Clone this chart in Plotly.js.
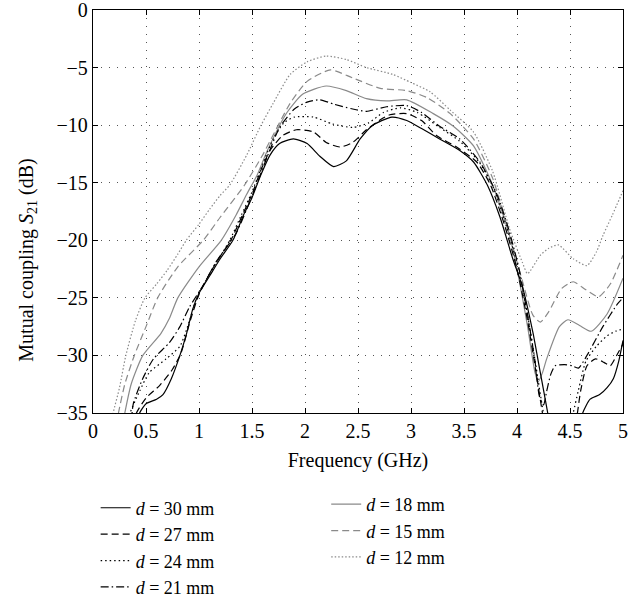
<!DOCTYPE html>
<html>
<head>
<meta charset="utf-8">
<script src="https://cdn.plot.ly/plotly-3.0.1.min.js"></script>
<style>body{margin:0;padding:0;background:#fff;} #chart{width:644px;height:615px;}</style>
</head>
<body>
<div id="chart"></div>
<script>
// Frequency (GHz) and S21 (dB) per spacing d; null breaks where a curve leaves the plot
const f30 = [0.42,0.44,0.5,0.6,0.66,0.74,0.82,0.88,0.94,1.0,1.1,1.2,1.32,1.42,1.5,1.58,1.67,1.76,1.89,2.02,2.14,2.27,2.39,2.52,2.64,2.82,2.96,3.1,3.27,3.46,3.59,3.72,3.84,3.96,4.05,4.15,4.22,4.29,4.31,null,4.6,4.62,4.69,4.78,4.85,4.91,4.96,5.0];
const s30 = [-36,-35,-34.2,-33.8,-33.4,-32,-30,-28.2,-26,-24.6,-23.1,-21.6,-20,-17.8,-16.3,-14.4,-12.6,-11.6,-11.2,-11.6,-12.7,-13.6,-13.1,-11.2,-10.0,-9.3,-9.6,-10.3,-11.2,-12.2,-13.2,-15.2,-18,-21.6,-24,-28,-31.5,-35,-36,null,-36,-35,-33.8,-33.4,-32.8,-32,-30.5,-28.7];

const f27 = [0.39,0.41,0.5,0.63,0.75,0.83,0.92,1.0,1.1,1.2,1.3,1.42,1.5,1.58,1.67,1.79,1.92,2.08,2.2,2.33,2.45,2.58,2.7,2.8,2.96,3.1,3.24,3.43,3.62,3.75,3.88,4.0,4.1,4.18,4.24,4.26,null,4.55,4.57,4.6,4.66,4.74,4.82,4.88,4.94,5.0];
const s27 = [-36,-35,-33.7,-32.6,-31.2,-29.8,-26.9,-24.7,-22.9,-21.4,-20,-17.6,-16.0,-14.0,-12.2,-10.9,-10.4,-10.6,-11.5,-11.9,-11.5,-10.4,-9.6,-9.1,-9.0,-9.6,-10.9,-11.9,-13.2,-15.2,-18.6,-22.5,-27,-31.5,-35,-36,null,-36,-35,-33.1,-30.9,-30.3,-30.6,-30.9,-30.0,-29.0];

const f24 = [0.33,0.35,0.44,0.53,0.69,0.82,0.91,0.97,1.1,1.2,1.29,1.4,1.5,1.6,1.7,1.8,1.9,2.08,2.26,2.45,2.6,2.74,2.9,3.06,3.27,3.46,3.65,3.78,3.9,4.0,4.1,4.18,4.24,4.27,null,4.5,4.53,4.58,4.65,4.75,4.85,4.93,5.0];
const s24 = [-36,-35,-33.1,-31.5,-30.3,-29.2,-27,-25.2,-22.9,-21.4,-20,-17.8,-15.8,-13.4,-11.2,-9.8,-9.3,-9.3,-9.9,-10.2,-9.8,-8.9,-8.5,-8.9,-10.2,-11.4,-13.3,-15.5,-18.8,-22,-26.5,-31,-34.5,-36,null,-36,-35,-33,-30.5,-29.2,-28.3,-27.9,-27.7];

const f21 = [0.36,0.38,0.47,0.57,0.72,0.82,0.91,1.04,1.16,1.35,1.45,1.55,1.65,1.76,1.9,2.02,2.14,2.28,2.45,2.58,2.77,2.96,3.1,3.27,3.46,3.65,3.81,3.92,4.02,4.1,4.17,4.21,4.25,4.28,4.32,4.36,4.45,4.52,4.58,4.66,4.81,4.95,5.0];
const s21 = [-36,-34.2,-32,-30.3,-28.9,-27.5,-25.8,-23.9,-21.9,-19.4,-17.3,-15,-12.6,-10.2,-8.6,-8.0,-7.8,-8.2,-8.6,-8.8,-8.4,-8.3,-8.9,-10.1,-11.2,-13.2,-16,-19,-22.5,-26.5,-30.5,-33.5,-34.3,-33.1,-31.6,-30.9,-30.8,-30.9,-31.1,-30,-27.5,-25.5,-25.0];

const f18 = [0.28,0.3,0.36,0.47,0.64,0.72,0.8,1.0,1.21,1.35,1.45,1.55,1.64,1.83,1.98,2.2,2.39,2.58,2.77,2.96,3.21,3.4,3.59,3.77,3.93,4.0,4.1,4.17,4.2,4.24,4.28,4.4,4.48,4.59,4.7,4.85,5.0];
const s18 = [-36,-35,-32.5,-30,-28.1,-26.8,-25,-22.3,-20,-17.8,-16.0,-14.3,-12.3,-8.9,-7.3,-6.6,-7.0,-7.7,-7.9,-7.8,-9.0,-10.1,-11.8,-15.2,-19.6,-22.5,-27.5,-31.5,-32.3,-31.5,-30.3,-27.5,-26.9,-27.4,-27.9,-26.4,-23.3];

const f15 = [0.22,0.24,0.3,0.39,0.5,0.61,0.8,1.04,1.2,1.43,1.6,1.86,2.02,2.24,2.45,2.71,2.96,3.15,3.37,3.59,3.77,3.93,4.05,4.15,4.22,4.3,4.42,4.53,4.65,4.77,4.88,5.0];
const s15 = [-36,-35,-32.5,-30,-27.5,-25,-22.3,-20,-18,-15.2,-12.6,-8.1,-6.2,-5.2,-5.9,-6.8,-7.0,-7.6,-9.0,-11.2,-14.6,-19.6,-23.5,-26.5,-27.1,-26.2,-24.2,-23.6,-24.3,-24.9,-23.8,-21.3];

const f12 = [0.17,0.19,0.25,0.31,0.4,0.49,0.6,0.7,0.8,0.88,1.0,1.1,1.2,1.29,1.45,1.58,1.7,1.86,2.02,2.2,2.39,2.58,2.83,3.0,3.18,3.37,3.59,3.77,3.93,4.05,4.1,4.22,4.3,4.39,4.53,4.66,4.75,4.81,4.9,5.0];
const s12 = [-36,-35,-32.8,-30,-27,-25,-23.8,-22.6,-21.2,-20,-18.6,-17.3,-16.1,-15.2,-12.6,-10.1,-8.1,-5.6,-4.5,-4.0,-4.3,-5.0,-5.6,-6.3,-7.1,-8.7,-10.6,-14,-19,-21.9,-22.9,-21.3,-20.7,-20.4,-21.6,-22.2,-21.0,-19.6,-17.8,-15.7];

const names = ['<i>d</i> = 30 mm','<i>d</i> = 27 mm','<i>d</i> = 24 mm','<i>d</i> = 21 mm','<i>d</i> = 18 mm','<i>d</i> = 15 mm','<i>d</i> = 12 mm'];
const xTicks = [0,0.5,1,1.5,2,2.5,3,3.5,4,4.5,5];
const xTickText = ['0','0.5','1','1.5','2','2.5','3','3.5','4','4.5','5'];
const yTicks = [-35,-30,-25,-20,-15,-10,-5,0];

const GRAY = '#8a8a8a';
const FONT = 'Liberation Serif, Times New Roman, serif';

function tr(x, y, name, color, dash, legend) {
  return {x: x, y: y, name: name, type: 'scatter', mode: 'lines', connectgaps: false,
          line: {color: color, width: 1.2, dash: dash, shape: 'spline', smoothing: 0.6},
          legend: legend, hoverinfo: 'skip'};
}

const data = [
  tr(f12, s12, names[6], GRAY, '1.5px,2px', 'legend2'),
  tr(f15, s15, names[5], GRAY, '7px,4px', 'legend2'),
  tr(f18, s18, names[4], GRAY, 'solid', 'legend2'),
  tr(f21, s21, names[3], '#000', '8px,3px,1.5px,3px', 'legend'),
  tr(f24, s24, names[2], '#000', '1.5px,3px', 'legend'),
  tr(f27, s27, names[1], '#000', '7px,4px', 'legend'),
  tr(f30, s30, names[0], '#000', 'solid', 'legend')
];

const axisCommon = {
  showline: true, linecolor: '#000', linewidth: 1.2, mirror: 'ticks',
  ticks: 'inside', ticklen: 5, tickwidth: 1, tickcolor: '#000',
  showgrid: true, gridcolor: '#555', gridwidth: 1, griddash: '1px,7px',
  zeroline: false, tickfont: {family: FONT, size: 20, color: '#000'},
  ticklabeloverflow: 'allow'
};

const layout = {
  width: 644, height: 615,
  margin: {l: 93, r: 21, t: 10, b: 191},
  paper_bgcolor: '#fff', plot_bgcolor: '#fff',
  font: {family: FONT, color: '#000'},
  xaxis: Object.assign({}, axisCommon, {
    range: [0, 5], tickmode: 'array', tickvals: xTicks, ticktext: xTickText,
    title: {text: 'Frequency (GHz)', font: {family: FONT, size: 20}, standoff: 11}
  }),
  yaxis: Object.assign({}, axisCommon, {
    range: [-35, 0], tickmode: 'array', tickvals: yTicks
  }),
  annotations: [{
    text: 'Mutual coupling <i>S</i><sub>21</sub> (dB)', textangle: -90,
    xref: 'paper', yref: 'paper', x: -0.123, y: 0.38, xanchor: 'center', yanchor: 'middle',
    showarrow: false, font: {family: FONT, size: 20, color: '#000'}
  }],
  legend: {
    x: 0.005, y: -0.19, xanchor: 'left', yanchor: 'top', orientation: 'v',
    traceorder: 'reversed', bgcolor: 'rgba(0,0,0,0)', borderwidth: 0,
    font: {family: FONT, size: 18, color: '#000'}, itemwidth: 30, tracegroupgap: 0
  },
  legend2: {
    x: 0.44, y: -0.181, xanchor: 'left', yanchor: 'top', orientation: 'v',
    traceorder: 'reversed', bgcolor: 'rgba(0,0,0,0)', borderwidth: 0,
    font: {family: FONT, size: 18, color: '#000'}, itemwidth: 30, tracegroupgap: 0
  },
  showlegend: true
};

Plotly.newPlot('chart', data, layout, {staticPlot: true, displayModeBar: false});
</script>
</body>
</html>
